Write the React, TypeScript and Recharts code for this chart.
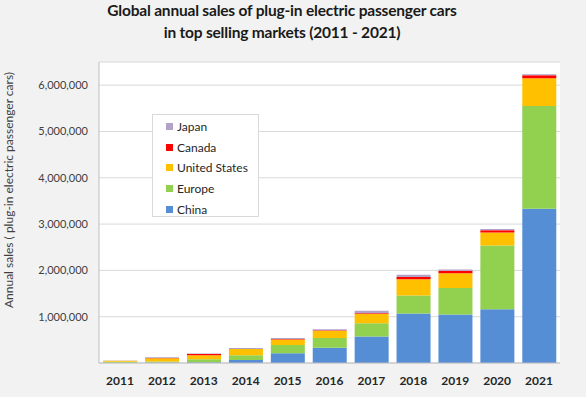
import React from "react";
import { BarChart, Bar, CartesianGrid, XAxis, YAxis, Legend } from "recharts";

const years = ["2011", "2012", "2013", "2014", "2015", "2016", "2017", "2018", "2019", "2020", "2021"];
const china = [3000, 10000, 15000, 65000, 210000, 330000, 570000, 1070000, 1050000, 1160000, 3330000];
const europe = [25000, 20000, 65000, 105000, 180000, 210000, 290000, 390000, 570000, 1380000, 2220000];
const unitedStates = [20000, 75000, 90000, 130000, 120000, 155000, 200000, 350000, 320000, 280000, 600000];
const canada = [1000, 2000, 25000, 5000, 10000, 11000, 16000, 45000, 50000, 45000, 65000];
const japan = [5000, 18000, 12000, 20000, 20000, 25000, 55000, 50000, 30000, 30000, 20000];
const yTicks = [1000000, 2000000, 3000000, 4000000, 5000000, 6000000];

const series = [
  { key: "China", color: "#558ED5" },
  { key: "Europe", color: "#92D050" },
  { key: "United States", color: "#FFC000" },
  { key: "Canada", color: "#FF0000" },
  { key: "Japan", color: "#B3A2C7" },
];

const data = years.map((year, i) => ({
  year,
  China: china[i],
  Europe: europe[i],
  "United States": unitedStates[i],
  Canada: canada[i],
  Japan: japan[i],
}));

const font = "Lato, 'Open Sans', sans-serif";

const LegendBox = () => (
  <div
    style={{
      background: "#fff",
      border: "1px solid #d9d9d9",
      width: 107,
      height: 103,
      boxSizing: "border-box",
      padding: "1px 0 0 13px",
      fontFamily: font,
      fontSize: 12,
      color: "#262626",
      textAlign: "left",
    }}
  >
    {[...series].reverse().map((s) => (
      <div key={s.key} style={{ display: "flex", alignItems: "center", height: 20.7 }}>
        <span style={{ width: 7, height: 7, background: s.color, marginRight: 4, display: "inline-block" }} />
        {s.key}
      </div>
    ))}
  </div>
);

export default function App() {
  return (
    <div
      style={{
        position: "absolute",
        left: 0,
        top: 0,
        width: 586,
        height: 397,
        background: "#f2f2f2",
        fontFamily: font,
      }}
    >
      <div
        style={{
          position: "absolute",
          left: 0,
          top: -1,
          width: 564,
          textAlign: "center",
          fontWeight: 700,
          fontSize: 15.5,
          letterSpacing: -0.2,
          lineHeight: "22px",
          color: "#1a1a1a",
        }}
      >
        Global annual sales of plug-in electric passenger cars
        <br />
        in top selling markets (2011 - 2021)
      </div>
      <div
        style={{
          position: "absolute",
          left: 8,
          top: 190,
          transform: "translate(-50%, -50%) rotate(-90deg)",
          whiteSpace: "nowrap",
          fontSize: 12,
          color: "#404040",
        }}
      >
        Annual sales ( plug-in electric passenger cars)
      </div>
      <BarChart
        width={586}
        height={397}
        data={data}
        margin={{ top: 62, right: 26, bottom: 0, left: 0 }}
        barCategoryGap="10%"
        style={{ position: "absolute", left: 0, top: 0 }}
      >
        <CartesianGrid vertical={false} stroke="#d9d9d9" fill="#ffffff" />
        <XAxis
          dataKey="year"
          height={34}
          tickLine={false}
          axisLine={{ stroke: "#bfbfbf" }}
          tickMargin={7}
          tick={{ fill: "#262626", fontSize: 12, fontWeight: 700, fontFamily: font }}
        />
        <YAxis
          width={99}
          domain={[0, 6500000]}
          ticks={yTicks}
          tickLine={false}
          axisLine={{ stroke: "#bfbfbf" }}
          tickMargin={5}
          tickFormatter={(v: number) => v.toLocaleString("en-US")}
          tick={{ fill: "#404040", fontSize: 11, fontFamily: font }}
        />
        <Legend
          layout="vertical"
          align="center"
          verticalAlign="middle"
          content={<LegendBox />}
          wrapperStyle={{ position: "absolute", left: 152, top: 114, width: 107, height: 103 }}
        />
        {series.map((s) => (
          <Bar key={s.key} dataKey={s.key} stackId="a" fill={s.color} isAnimationActive={false} />
        ))}
      </BarChart>
    </div>
  );
}
